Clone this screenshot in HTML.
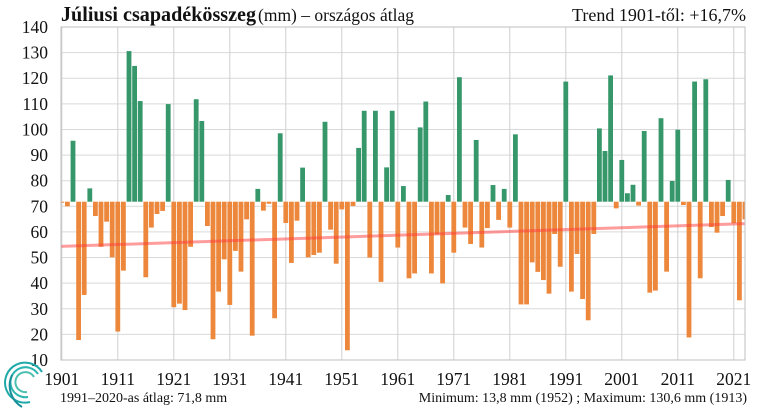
<!DOCTYPE html>
<html><head><meta charset="utf-8">
<style>
body{margin:0;background:#fff;width:768px;height:413px;overflow:hidden}
svg{display:block}
text{font-family:"Liberation Serif",serif;fill:#111}
</style></head><body>
<svg id="s" width="768" height="413" viewBox="0 0 768 413" xmlns="http://www.w3.org/2000/svg">
<g id="grid"></g>
<g id="bars"></g>
<line x1="61" y1="246.4" x2="745" y2="223.6" stroke="#ff3b3b" stroke-opacity="0.5" stroke-width="3"/>
<rect x="61" y="27" width="684" height="333" fill="none" stroke="#bfbfbf" stroke-width="1"/>
<g id="lab"></g>
<text x="61" y="21" font-size="21" font-weight="bold" textLength="195" lengthAdjust="spacingAndGlyphs">Júliusi csapadékösszeg</text>
<text x="258" y="21" font-size="17.5">(mm) – országos átlag</text>
<text x="746" y="21" font-size="18" text-anchor="end">Trend 1901-től: +16,7%</text>
<text x="60" y="402" font-size="14">1991–2020-as átlag:  71,8 mm</text>
<text x="747" y="402" font-size="14" text-anchor="end">Minimum:  13,8 mm (1952) ; Maximum:  130,6 mm (1913)</text>
<g fill="none" stroke="#1fa8a8" stroke-width="2">
<path d="M30 402 A20 20 0 1 1 42 372"/>
<path d="M28 397 A15 15 0 1 1 38 374" stroke="#2bb5b0"/>
<path d="M27 392 A10 10 0 1 1 34 377" stroke="#4cc0b0"/>
<path d="M22 407 A25 25 0 0 1 12 375" stroke="#178f9a"/>
</g>
</svg>
<script>
var v=[71.5,70,95.6,17.8,35.4,77,66.2,54.2,64,50.1,21.1,44.9,130.6,124.8,111.1,42.3,61.7,67,68.2,109.9,30.6,32,29.5,54.2,111.8,103.3,62.3,18.1,36.7,49.3,31.5,
52.6,44.5,64.9,19.5,76.8,68.3,71,26.3,98.5,63.5,47.9,64.4,85.1,50.1,51,51.9,103,60.9,47.6,68.8,13.8,70.1,92.8,107.3,50,107.3,40.5,85.2,107.3,53.9,77.9,
41.9,43.8,100.8,110.9,43.8,59,39.9,74.4,51.9,120.4,61.7,55.3,95.9,53.9,61.5,78.3,64.7,76.8,61.7,98.1,31.7,31.7,48.1,44.4,41.2,35.9,59.2,46.4,118.7,36.7,
51.4,33.8,25.5,59.2,100.4,91.6,121.1,69.2,88.1,75.1,78.4,70.3,99.4,36.3,37.1,104.4,44.5,79.9,99.9,70.5,18.8,118.7,41.9,119.6,61.9,59.7,66.2,80.3,63.4,33.3,64.9];
var ns="http://www.w3.org/2000/svg";
function Y(a){return 27+(140-a)*333/130;}
function el(p,t,at,tx){var e=document.createElementNS(ns,t);for(var k in at)e.setAttribute(k,at[k]);if(tx)e.textContent=tx;document.getElementById(p).appendChild(e);}
for(var g=10;g<=140;g+=10){el("grid","line",{x1:61,x2:745,y1:Y(g),y2:Y(g),stroke:"#d9d9d9","stroke-width":1});
el("lab","text",{x:48,y:Y(g)+6,"font-size":17.5,"text-anchor":"end"},String(g));}
for(var j=0;j<=12;j++){var x=61.8+56*j;el("grid","line",{x1:x,x2:x,y1:27,y2:360,stroke:"#d0d0d0","stroke-width":1});
el("lab","text",{x:x,y:385,"font-size":17.5,"text-anchor":"middle"},String(1901+10*j));}
var b=Y(71.8);
for(var i=0;i<v.length;i++){var c=61.8+5.6*i,x0=c-2.4,x1=c+2.4;if(x0<61)x0=61;if(x1>745)x1=745;
var y=Y(v[i]);var up=v[i]>71.8;
el("bars","rect",{x:x0,y:up?y:b,width:x1-x0,height:Math.max(Math.abs(y-b),1),fill:up?"#36976a":"#ec873b"});}
</script>
</body></html>
